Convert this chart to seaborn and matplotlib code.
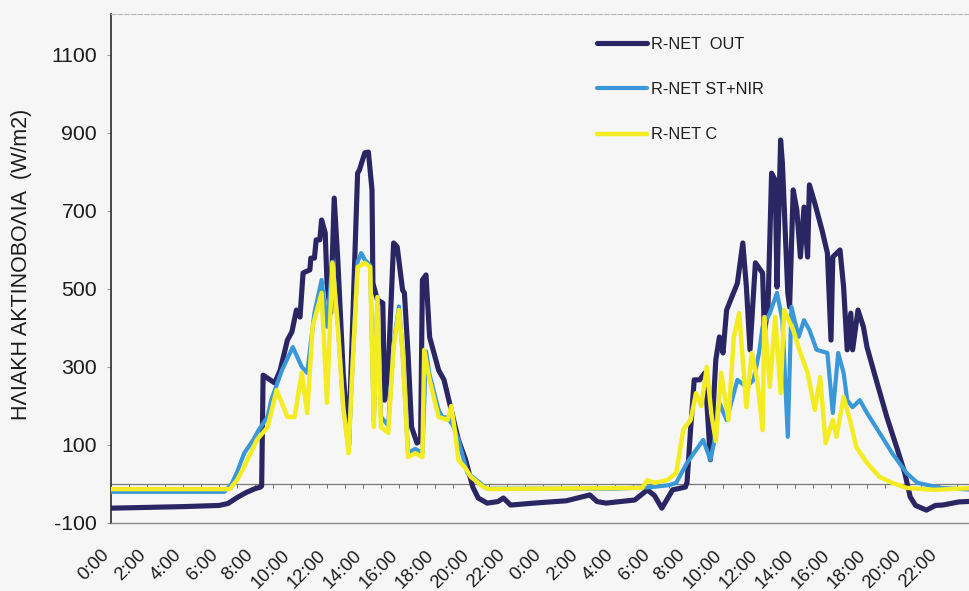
import numpy as np
import matplotlib
matplotlib.use("Agg")
import matplotlib.pyplot as plt
import matplotlib.transforms as mtransforms
import seaborn as sns

# Time in hours over two consecutive days (0-48 h), radiation in W/m2
out_t = [0, 2, 4, 6, 6.5, 7, 7.5, 8, 8.3, 8.37, 8.45, 9.1, 9.4, 9.8, 10.05, 10.3,
         10.5, 10.67, 11.05, 11.1, 11.3, 11.4, 11.6, 11.7, 11.9, 12.0, 12.2, 12.4,
         12.6, 12.9, 13.2, 13.7, 13.8, 14.1, 14.3, 14.5, 14.55, 14.8, 15.1, 15.2,
         15.4, 15.7, 15.9, 16.2, 16.3, 16.5, 16.7, 17.0, 17.2, 17.3, 17.5, 17.7,
         18.2, 18.5, 18.9, 19.3, 19.7, 20.1, 20.4, 20.9, 21.5, 21.8, 22.2, 23.5,
         25.3, 26.6, 27.0, 27.5, 29.1, 29.8, 30.2, 30.6, 31.2, 31.9, 32.0, 32.2,
         32.4, 32.7, 33.0, 33.3, 33.6, 33.8, 34.0, 34.2, 34.8, 35.1, 35.3, 35.5,
         35.8, 36.2, 36.3, 36.5, 36.7, 36.9, 37.0, 37.2, 37.3, 37.6, 37.7, 37.9,
         38.1, 38.3, 38.5, 38.7, 38.8, 39.1, 39.5, 39.8, 40.0, 40.1, 40.5, 40.7,
         40.9, 41.1, 41.2, 41.5, 41.8, 42.0, 42.4, 43.1, 43.7, 44.1, 44.4, 44.7,
         45.3, 45.8, 46.2, 47.1, 48.0]
out_v = [-62, -60, -58, -55, -50, -35, -22, -12, -8, -5, 279, 259, 292, 369, 390, 446,
         428, 541, 549, 579, 579, 626, 626, 677, 644, 515, 438, 733,
         574, 285, 100, 797, 805, 849, 851, 754, 515, 472, 464, 215,
         292, 618, 608, 497, 490, 336, 146, 105, 113, 523, 536, 377,
         292, 267, 190, 113, 62, -8, -36, -49, -45, -36, -54, -49,
         -43, -28, -45, -49, -41, -15, -30, -62, -15, -8, 3, 140,
         267, 267, 285, 62, 318, 377, 336, 446, 515, 618, 505, 344,
         567, 541, 387, 454, 797, 779, 505, 882, 823, 490, 454, 754,
         703, 582, 710, 582, 767, 720, 651, 592, 369, 582, 600, 505,
         344, 438, 344, 446, 403, 351, 285, 172, 87, 28, -33, -55,
         -67, -55, -54, -46, -44]

st_t = [0, 6.3, 6.7, 7.0, 7.4, 7.9, 8.2, 8.7, 8.9, 9.5, 10.1, 10.6, 10.9, 11.3, 11.7,
        12.0, 12.3, 12.6, 12.9, 13.2, 13.4, 13.7, 13.9, 14.1, 14.4, 14.6, 14.8,
        15.0, 15.4, 15.7, 16.0, 16.2, 16.5, 16.9, 17.3, 17.5, 17.7, 18.2, 18.4,
        18.7, 19.0, 19.3, 19.8, 20.5, 20.9, 24.0, 28.0, 30.0, 31.0, 31.4, 32.0,
        32.5, 32.9, 33.3, 33.5, 33.8, 34.2, 34.8, 35.3, 35.7, 36.0, 36.2, 36.6,
        37.0, 37.3, 37.6, 37.8, 38.2, 38.5, 38.8, 39.2, 39.8, 40.1, 40.4, 40.7,
        40.9, 41.2, 41.6, 42.0, 42.7, 43.4, 44.2, 44.8, 46.1, 48.0]
st_v = [-20, -20, 0, 30, 79, 113, 138, 172, 215, 292, 351, 300, 285, 438, 523,
        403, 570, 410, 200, 90, 290, 570, 592, 575, 560, 160, 480,
        172, 150, 360, 455, 340, 80, 90, 80, 340, 280, 190, 172,
        170, 150, 113, 28, 3, -12, -12, -12, -8, -3, 3, 54,
        87, 113, 62, 105, 208, 164, 267, 249, 267, 336, 403, 438,
        490, 420, 121, 454, 377, 420, 395, 344, 336, 182, 336, 285,
        215, 197, 215, 182, 131, 79, 28, 3, -10, -15]

c_t = [0, 6.6, 7.0, 7.4, 7.5, 8.1, 8.7, 9.2, 9.8, 10.2, 10.6, 10.9, 11.2, 11.7, 12.0,
       12.3, 12.6, 12.9, 13.2, 13.4, 13.7, 14.1, 14.4, 14.6, 14.8, 15.0, 15.4,
       15.7, 16.0, 16.2, 16.5, 16.9, 17.3, 17.4, 17.7, 18.2, 18.7, 18.9, 19.1,
       19.3, 19.7, 20.0, 20.7, 21.0, 29.5, 29.8, 30.2, 30.9, 31.4, 31.8, 32.2,
       32.5, 32.8, 33.1, 33.35, 33.6, 33.9, 34.3, 34.6, 34.9, 35.3, 35.6, 35.9,
       36.2, 36.3, 36.6, 36.9, 37.2, 37.4, 37.9, 38.3, 38.7, 39.1, 39.4, 39.7,
       40.1, 40.3, 40.7, 41.1, 41.4, 42.0, 42.7, 43.4, 44.2, 45.7, 48.0]
c_v = [-13, -13, 10, 44, 54, 113, 146, 241, 172, 172, 285, 182, 403, 490, 208,
       567, 403, 197, 79, 285, 556, 567, 556, 146, 479, 146, 131,
       351, 446, 336, 69, 79, 69, 344, 267, 172, 164, 200, 138,
       62, 40, 18, -8, -13, -10, 10, 3, 10, 28, 140, 164,
       233, 200, 300, 180, 110, 285, 164, 377, 438, 197, 336, 267,
       138, 428, 249, 428, 233, 446, 395, 336, 285, 190, 274, 105,
       164, 121, 223, 156, 95, 54, 18, 3, -10, -15, -10]

series_labels = ["R-NET  OUT", "R-NET ST+NIR", "R-NET C"]
series_colors = ["#2a2563", "#3b98d8", "#f4ec22"]
series_widths = [3.7, 3.0, 3.2]

tick_hours = list(range(0, 48, 2))
tick_labels = [f"{h % 24}:00" for h in tick_hours]
y_ticks = list(range(-100, 1101, 200))
y_min, y_max = -100, 1205

sns.set_theme(style="white")
plt.rcParams["font.family"] = ["Liberation Sans", "DejaVu Sans"]

BG = "#f6f6f6"
TXT = "#1c1c1c"
fig = plt.figure(figsize=(9.70, 5.91), dpi=100, facecolor=BG)
ax = fig.add_axes([111 / 970, 68 / 591, 864 / 970, 509 / 591])
ax.set_facecolor(BG)

for (t, v), lab, col, lw in zip([(out_t, out_v), (st_t, st_v), (c_t, c_v)],
                                series_labels, series_colors, series_widths):
    sns.lineplot(x=t, y=v, ax=ax, color=col, lw=lw, label=lab,
                 estimator=None, sort=False, zorder=3)

ax.set_xlim(0, 48)
ax.set_ylim(y_min, y_max)

# zero reference line with hourly tick marks
zero_ax = ax.secondary_xaxis(0, transform=ax.transData)
zero_ax.set_xticks(np.arange(0, 49, 1))
zero_ax.set_xticklabels([])
zero_ax.tick_params(axis="x", direction="out", length=3, width=0.7, color="#6e6e6e")
zero_ax.spines["bottom"].set_color("#7a7a7a")
zero_ax.spines["bottom"].set_linewidth(0.9)

ax.set_yticks(y_ticks)
ax.set_yticklabels([str(v) for v in y_ticks])
ax.tick_params(axis="y", left=True, length=3, width=0.8, color="#9a9a9a",
               pad=7, labelsize=15.3, labelcolor=TXT)

ax.set_xticks(tick_hours)
ax.set_xticklabels(tick_labels, rotation=45, ha="right", va="top",
                   rotation_mode="anchor")
ax.tick_params(axis="x", bottom=True, length=0, pad=17, labelsize=13.3, labelcolor=TXT)
shift = mtransforms.ScaledTranslation(-10 / 100, 0, fig.dpi_scale_trans)
for lbl in ax.get_xticklabels():
    lbl.set_transform(lbl.get_transform() + shift)

ax.set_xlabel("")
ax.set_ylabel("ΗΛΙΑΚΗ ΑΚΤΙΝΟΒΟΛΙΑ  (W/m2)", fontsize=15.5, color=TXT)
ax.yaxis.set_label_coords(-0.0915, 0.508)

ax.spines["left"].set_color("#3a3a3a")
ax.spines["left"].set_linewidth(1.3)
ax.spines["bottom"].set_color("#8c8c8c")
ax.spines["bottom"].set_linewidth(1.0)
ax.spines["top"].set_color("#b8b8b8")
ax.spines["top"].set_linewidth(0.8)
ax.spines["top"].set_linestyle((0, (4, 2)))
ax.spines["right"].set_visible(False)

ax.legend(loc="upper left", bbox_to_anchor=(0.5625, 0.955), frameon=False,
          fontsize=11.7, handlelength=3.1, handletextpad=0.2, labelspacing=1.86,
          borderaxespad=0, borderpad=0, labelcolor=TXT)

fig.savefig("out.png", dpi=100, facecolor=BG)
